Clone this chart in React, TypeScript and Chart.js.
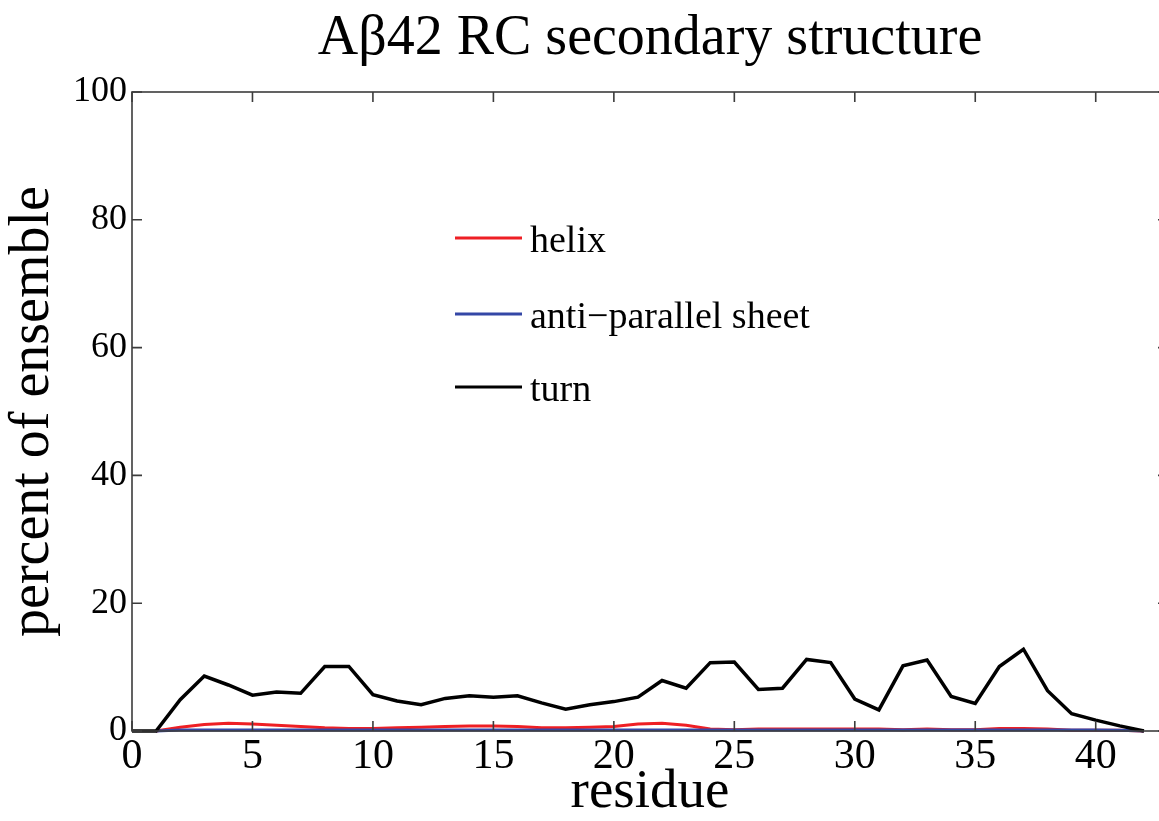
import React, { useEffect, useRef } from 'react';
import { Chart, registerables } from 'chart.js';

Chart.register(...registerables);

const TITLE = 'Aβ42 RC secondary structure';
const X_LABEL = 'residue';
const Y_LABEL = 'percent of ensemble';

const RESIDUES = [1, 2, 3, 4, 5, 6, 7, 8, 9, 10, 11, 12, 13, 14, 15, 16, 17, 18, 19, 20, 21,
  22, 23, 24, 25, 26, 27, 28, 29, 30, 31, 32, 33, 34, 35, 36, 37, 38, 39, 40, 41, 42];

const HELIX = [0, 0.6, 1.0, 1.2, 1.1, 0.9, 0.7, 0.5, 0.4, 0.4, 0.5, 0.6, 0.7, 0.8, 0.8, 0.7, 0.5,
  0.5, 0.6, 0.7, 1.1, 1.2, 0.9, 0.3, 0.2, 0.3, 0.3, 0.3, 0.3, 0.3, 0.3, 0.2, 0.3, 0.2, 0.2, 0.4,
  0.4, 0.3, 0.1, 0.1, 0.1, 0];

const SHEET = [0, 0.15, 0.15, 0.15, 0.15, 0.15, 0.15, 0.15, 0.15, 0.15, 0.15, 0.15, 0.15, 0.15,
  0.15, 0.15, 0.15, 0.15, 0.15, 0.15, 0.15, 0.15, 0.15, 0.15, 0.15, 0.15, 0.15, 0.15, 0.15, 0.15,
  0.15, 0.15, 0.15, 0.15, 0.15, 0.15, 0.15, 0.15, 0.15, 0.15, 0.1, 0];

// turn series starts at residue 0
const TURN_RESIDUES = [0, ...RESIDUES];
const TURN = [0, 0, 4.9, 8.6, 7.2, 5.6, 6.1, 5.9, 10.1, 10.1, 5.7, 4.7, 4.1, 5.1, 5.5, 5.3, 5.5,
  4.4, 3.4, 4.1, 4.6, 5.3, 7.9, 6.7, 10.7, 10.8, 6.5, 6.7, 11.2, 10.7, 5.0, 3.3, 10.2, 11.1, 5.4,
  4.3, 10.1, 12.8, 6.3, 2.7, 1.7, 0.8, 0];

const X_TICKS = [0, 5, 10, 15, 20, 25, 30, 35, 40];
const Y_TICKS = [0, 20, 40, 60, 80, 100];
const SERIES_LABELS = ['helix', 'anti\u2212parallel sheet', 'turn'];
const SERIES_COLORS = ['#ee1f24', '#3447a6', '#000000'];

const FONT = "'Liberation Serif', 'Times New Roman', serif";
const AXIS_COLOR = '#3c3c3c';

const framePlugin = {
  id: 'matlabFrame',
  afterDatasetsDraw(chart: any) {
    const { ctx, chartArea, scales } = chart;
    const { left, top, right, bottom } = chartArea;
    const xs = scales.x;
    const ys = scales.y;
    const TL = 10;
    ctx.save();
    ctx.strokeStyle = AXIS_COLOR;
    ctx.lineWidth = 1.6;
    ctx.strokeRect(left, top, right - left, bottom - top);
    ctx.beginPath();
    xs.ticks.forEach((t: any) => {
      const px = xs.getPixelForValue(t.value);
      ctx.moveTo(px, bottom);
      ctx.lineTo(px, bottom - TL);
      ctx.moveTo(px, top);
      ctx.lineTo(px, top + TL);
    });
    ys.ticks.forEach((t: any) => {
      const py = ys.getPixelForValue(t.value);
      ctx.moveTo(left, py);
      ctx.lineTo(left + TL, py);
      ctx.moveTo(right, py);
      ctx.lineTo(right - TL, py);
    });
    ctx.stroke();

    // legend
    const rowsY = [146, 222, 295];
    ctx.font = `38px ${FONT}`;
    ctx.textBaseline = 'alphabetic';
    ctx.textAlign = 'left';
    SERIES_LABELS.forEach((lab, i) => {
      const y = top + rowsY[i];
      ctx.strokeStyle = SERIES_COLORS[i];
      ctx.lineWidth = 3;
      ctx.beginPath();
      ctx.moveTo(left + 323, y);
      ctx.lineTo(left + 390, y);
      ctx.stroke();
      ctx.fillStyle = '#000';
      ctx.fillText(lab, left + 398, y + 14);
    });
    ctx.restore();
  },
};

export default function App() {
  const ref = useRef<HTMLCanvasElement | null>(null);

  useEffect(() => {
    if (!ref.current) return;
    const chart = new Chart(ref.current, {
      type: 'line',
      data: {
        datasets: [
          {
            label: SERIES_LABELS[0],
            data: RESIDUES.map((r, i) => ({ x: r, y: HELIX[i] })),
            borderColor: SERIES_COLORS[0],
            borderWidth: 3,
            pointRadius: 0,
            order: 3,
            clip: false,
          },
          {
            label: SERIES_LABELS[1],
            data: RESIDUES.map((r, i) => ({ x: r, y: SHEET[i] })),
            borderColor: SERIES_COLORS[1],
            borderWidth: 3,
            pointRadius: 0,
            order: 2,
            clip: false,
          },
          {
            label: SERIES_LABELS[2],
            data: TURN_RESIDUES.map((r, i) => ({ x: r, y: TURN[i] })),
            borderColor: SERIES_COLORS[2],
            borderWidth: 3.5,
            pointRadius: 0,
            order: 1,
            clip: false,
          },
        ],
      },
      options: {
        animation: false,
        responsive: false,
        devicePixelRatio: 1,
        layout: { padding: { left: 0, right: 32, top: 0, bottom: 0 } },
        plugins: {
          legend: { display: false },
          tooltip: { enabled: false },
          title: {
            display: true,
            text: TITLE,
            fullSize: false,
            color: '#000',
            font: { family: FONT, size: 56, weight: 'normal', lineHeight: 1 },
            padding: { top: 11, bottom: 25 },
          },
        },
        scales: {
          x: {
            type: 'linear',
            min: 0,
            max: 43,
            position: 'bottom',
            afterBuildTicks: (s: any) => {
              s.ticks = X_TICKS.map((v) => ({ value: v }));
            },
            afterFit: (s: any) => {
              s.height = 90;
            },
            ticks: {
              color: '#000',
              font: { family: FONT, size: 42, lineHeight: 1.2 },
              padding: 1,
              maxRotation: 0,
              autoSkip: false,
            },
            grid: { display: false, drawTicks: false },
            border: { display: false },
            title: {
              display: true,
              text: X_LABEL,
              color: '#000',
              font: { family: FONT, size: 55, lineHeight: 1 },
              padding: { top: 0, bottom: 1 },
            },
          },
          y: {
            type: 'linear',
            min: 0,
            max: 100,
            afterBuildTicks: (s: any) => {
              s.ticks = Y_TICKS.map((v) => ({ value: v }));
            },
            afterFit: (s: any) => {
              s.width = 132;
            },
            ticks: {
              color: '#000',
              font: { family: FONT, size: 36 },
              padding: 5,
            },
            grid: { display: false, drawTicks: false },
            border: { display: false },
            title: {
              display: true,
              text: Y_LABEL,
              color: '#000',
              font: { family: FONT, size: 56, lineHeight: 1 },
              padding: { top: 5, bottom: 0 },
            },
          },
        },
      },
      plugins: [framePlugin],
    } as any);
    return () => chart.destroy();
  }, []);

  return (
    <div
      style={{
        position: 'fixed',
        left: 0,
        top: 0,
        width: 1159,
        height: 821,
        overflow: 'hidden',
        background: '#fff',
      }}
    >
      <canvas ref={ref} width={1200} height={821} style={{ display: 'block' }} />
    </div>
  );
}
